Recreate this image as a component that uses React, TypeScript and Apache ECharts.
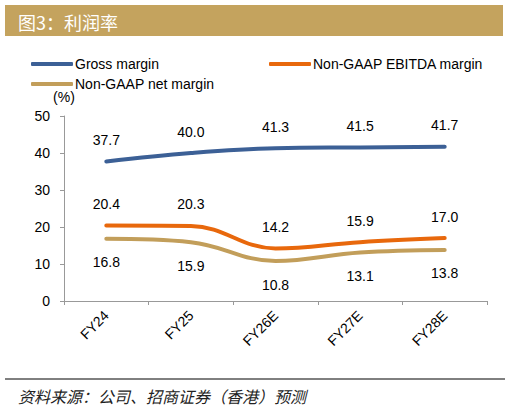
import { useEffect, useRef } from 'react';
import * as echarts from 'echarts';

const categories = ['FY24', 'FY25', 'FY26E', 'FY27E', 'FY28E'];
const grossMargin = [37.7, 40.0, 41.3, 41.5, 41.7];
const ebitdaMargin = [20.4, 20.3, 14.2, 15.9, 17.0];
const netMargin = [16.8, 15.9, 10.8, 13.1, 13.8];
const yTicks = { min: 0, max: 50, interval: 10 };

const titleText = '图3：利润率';
const sourceText = '资料来源：公司、招商证券（香港）预测';

const FONT = '"Liberation Sans", Arial, sans-serif';
const CJK = '"Noto Sans CJK SC", sans-serif';

export default function App() {
  const chartRef = useRef<HTMLDivElement>(null);

  useEffect(() => {
    if (!chartRef.current) return;
    const chart = echarts.init(chartRef.current, undefined, { renderer: 'svg' });

    const labelStyle = { fontFamily: FONT, fontSize: 14, color: '#000' };
    const legendBase = {
      itemWidth: 42,
      itemHeight: 4,
      itemGap: 4,
      icon: 'roundRect',
      textStyle: { fontFamily: FONT, fontSize: 14, color: '#000', padding: [0, 0, 0, -3] },
    };

    chart.setOption({
      animation: false,
      title: {
        text: titleText,
        left: 13,
        top: 8,
        textStyle: { fontFamily: CJK, fontSize: 18, fontWeight: 'normal', color: '#fff' },
      },
      legend: [
        { ...legendBase, data: ['Gross margin'], left: 26, top: 52 },
        { ...legendBase, data: ['Non-GAAP EBITDA margin'], left: 264, top: 52 },
        { ...legendBase, data: ['Non-GAAP net margin'], left: 26, top: 72 },
      ],
      grid: { left: 64, right: 23, top: 116, bottom: 109 },
      xAxis: {
        type: 'category',
        data: categories,
        boundaryGap: true,
        axisLine: { lineStyle: { color: '#999' } },
        axisTick: { show: true, length: 4, lineStyle: { color: '#999' } },
        axisLabel: { rotate: 45, margin: 12, ...labelStyle },
      },
      yAxis: {
        type: 'value',
        ...yTicks,
        name: '(%)',
        nameLocation: 'end',
        nameGap: 12,
        nameTextStyle: { ...labelStyle, align: 'center' },
        axisLine: { show: true, lineStyle: { color: '#999' } },
        axisTick: { show: true, length: 4, lineStyle: { color: '#999' } },
        axisLabel: { margin: 14, ...labelStyle },
        splitLine: { show: false },
      },
      series: [
        {
          name: 'Gross margin',
          type: 'line',
          data: grossMargin,
          smooth: 0.4,
          symbol: 'circle',
          symbolSize: 1,
          itemStyle: { color: '#3C6096' },
          lineStyle: { width: 4, color: '#3C6096', cap: 'round' },
          label: { show: true, position: 'top', distance: 14, formatter: (p: any) => p.value.toFixed(1), ...labelStyle },
        },
        {
          name: 'Non-GAAP EBITDA margin',
          type: 'line',
          data: ebitdaMargin,
          smooth: 0.4,
          symbol: 'circle',
          symbolSize: 1,
          itemStyle: { color: '#E8680C' },
          lineStyle: { width: 4, color: '#E8680C', cap: 'round' },
          label: { show: true, position: 'top', distance: 14, formatter: (p: any) => p.value.toFixed(1), ...labelStyle },
        },
        {
          name: 'Non-GAAP net margin',
          type: 'line',
          data: netMargin,
          smooth: 0.4,
          symbol: 'circle',
          symbolSize: 1,
          itemStyle: { color: '#C29E5A' },
          lineStyle: { width: 4, color: '#C29E5A', cap: 'round' },
          label: { show: true, position: 'bottom', distance: 16, formatter: (p: any) => p.value.toFixed(1), ...labelStyle },
        },
      ],
      graphic: [
        {
          type: 'rect',
          z: -1,
          shape: { x: 5, y: 5, width: 498, height: 31 },
          style: { fill: '#C4A35E' },
        },
        {
          type: 'line',
          shape: { x1: 5, y1: 379, x2: 505, y2: 379 },
          style: { stroke: '#000', lineWidth: 1 },
        },
        {
          type: 'text',
          x: 18,
          y: 388,
          style: {
            text: sourceText,
            fontFamily: CJK,
            fontSize: 16,
            fontStyle: 'italic',
            fill: '#222',
          },
        },
      ],
    });

    return () => chart.dispose();
  }, []);

  return (
    <div
      ref={chartRef}
      style={{ position: 'absolute', left: 0, top: 0, width: 510, height: 410, background: '#fff' }}
    />
  );
}
